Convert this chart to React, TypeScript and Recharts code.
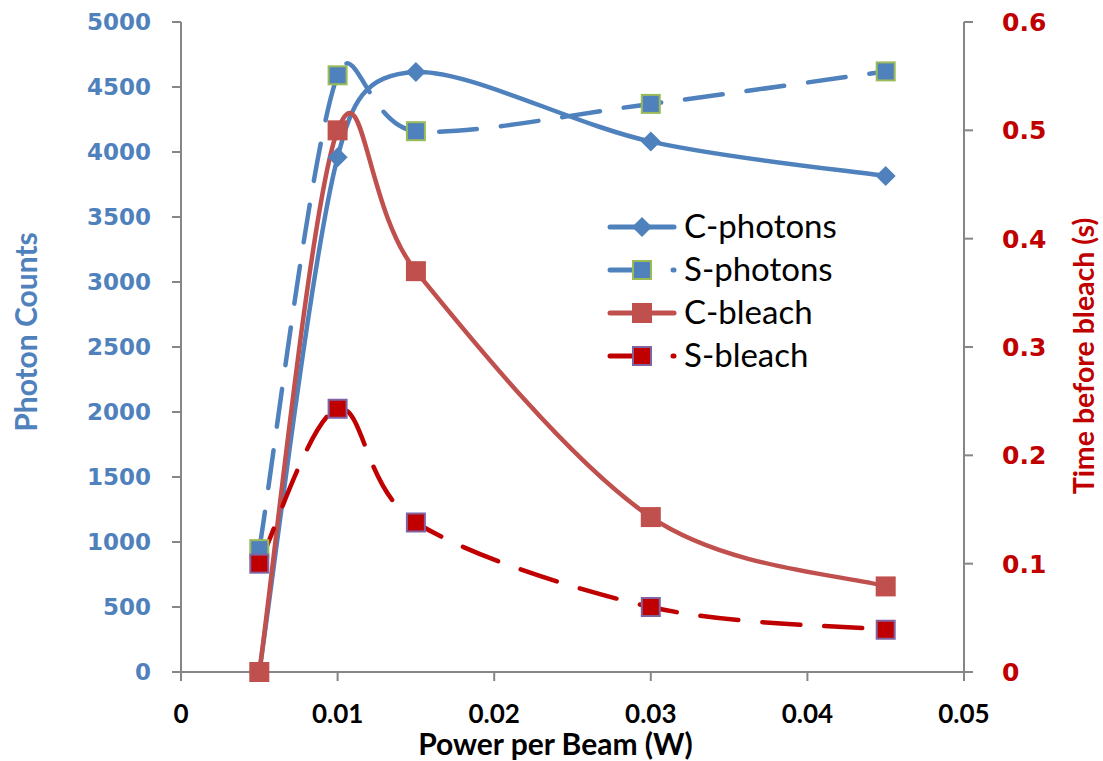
import React from "react";
import { LineChart, Line, XAxis, YAxis, Legend } from "recharts";

// x values (W) and the four series
const power = [0.005, 0.01, 0.015, 0.03, 0.045];
const cPhotons = [0, 3960, 4615, 4080, 3815];
const sPhotons = [945, 4590, 4160, 4370, 4620];
const cBleach = [0, 0.5, 0.37, 0.143, 0.079];
const sBleach = [0.1, 0.243, 0.138, 0.06, 0.039];

const xTicks = [0, 0.01, 0.02, 0.03, 0.04, 0.05];
const photonTicks = [0, 500, 1000, 1500, 2000, 2500, 3000, 3500, 4000, 4500, 5000];
const bleachTicks = [0, 0.1, 0.2, 0.3, 0.4, 0.5, 0.6];

const rows = power.map((p, i) => ({
  power: p,
  cPhotons: cPhotons[i],
  sPhotons: sPhotons[i],
  cBleach: cBleach[i],
  sBleach: sBleach[i],
}));

const BLUE = "#4F81BD";
const RED = "#C0504D";
const DARK_RED = "#C00000";
const AXIS = "#868686";

const series = [
  { key: "cPhotons", name: "C-photons", axis: "left", color: BLUE, dash: undefined, shape: "diamond", fill: BLUE, border: BLUE },
  { key: "sPhotons", name: "S-photons", axis: "left", color: BLUE, dash: "38 24", shape: "square", fill: BLUE, border: "#9BBB59" },
  { key: "cBleach", name: "C-bleach", axis: "right", color: RED, dash: undefined, shape: "square", fill: RED, border: RED },
  { key: "sBleach", name: "S-bleach", axis: "right", color: DARK_RED, dash: "38 24", shape: "square", fill: DARK_RED, border: "#8064A2" },
];

// Excel style smoothing: catmull-rom tangents (1/6), handle length capped at half the segment
const handle = (dx: number, dy: number, seg: number) => {
  let hx = dx / 6;
  let hy = dy / 6;
  const len = Math.hypot(hx, hy);
  if (len > seg / 2 && len > 0) {
    hx *= seg / 2 / len;
    hy *= seg / 2 / len;
  }
  return [hx, hy];
};

const excelSmooth = (context: any) => {
  let pts: number[][] = [];
  return {
    areaStart() {},
    areaEnd() {},
    lineStart() {
      pts = [];
    },
    lineEnd() {
      if (!pts.length) return;
      context.moveTo(pts[0][0], pts[0][1]);
      for (let i = 0; i < pts.length - 1; i++) {
        const p0 = pts[i - 1] || pts[i];
        const p1 = pts[i];
        const p2 = pts[i + 1];
        const p3 = pts[i + 2] || p2;
        const seg = Math.hypot(p2[0] - p1[0], p2[1] - p1[1]);
        const h1 = handle(p2[0] - p0[0], p2[1] - p0[1], seg);
        const h2 = handle(p3[0] - p1[0], p3[1] - p1[1], seg);
        context.bezierCurveTo(p1[0] + h1[0], p1[1] + h1[1], p2[0] - h2[0], p2[1] - h2[1], p2[0], p2[1]);
      }
    },
    point(x: number, y: number) {
      pts.push([x, y]);
    },
  };
};

const marker = (shape: string, cx: number, cy: number, fill: string, border: string, key?: string) => {
  if (shape === "diamond") {
    const r = 10;
    return (
      <path
        key={key}
        d={`M${cx},${cy - r}L${cx + r},${cy}L${cx},${cy + r}L${cx - r},${cy}Z`}
        fill={fill}
      />
    );
  }
  const h = 9;
  return (
    <rect key={key} x={cx - h} y={cy - h} width={h * 2} height={h * 2} fill={fill} stroke={border} strokeWidth={2} />
  );
};

const tickFont = { fontFamily: "'DejaVu Sans', sans-serif", fontWeight: 700 };

const LeftTick = ({ x, y, payload }: any) => (
  <text x={x - 21} y={y + 8} textAnchor="end" fill={BLUE} style={{ ...tickFont, fontSize: 23 }}>
    {payload.value}
  </text>
);

const RightTick = ({ x, y, payload }: any) => (
  <text x={x + 29} y={y + 9} textAnchor="start" fill={DARK_RED} style={{ ...tickFont, fontSize: 25 }}>
    {payload.value}
  </text>
);

const BottomTick = ({ x, y, payload }: any) => (
  <text
    x={x}
    y={y + 42}
    textAnchor="middle"
    fill="#000"
    style={{ fontFamily: "Lato, sans-serif", fontWeight: 700, fontSize: 26 }}
  >
    {payload.value}
  </text>
);

const titleFont = { fontFamily: "Lato, sans-serif", fontWeight: 700 };

const renderLegend = () => (
  <svg width={260} height={170}>
    {series.map((s, i) => {
      const y = 22 + i * 43;
      return (
        <g key={s.key}>
          {s.dash ? (
            <>
              <line x1={5} y1={y} x2={36} y2={y} stroke={s.color} strokeWidth={5} strokeLinecap="round" />
              <line x1={68} y1={y} x2={69} y2={y} stroke={s.color} strokeWidth={5} strokeLinecap="round" />
            </>
          ) : (
            <line x1={5} y1={y} x2={69} y2={y} stroke={s.color} strokeWidth={5} strokeLinecap="round" />
          )}
          {marker(s.shape, 37, y, s.fill, s.border)}
          <text x={79} y={y + 11} fill="#000" style={{ fontFamily: "Lato, sans-serif", fontSize: 33 }}>
            {s.name}
          </text>
        </g>
      );
    })}
  </svg>
);

export default function App() {
  return (
    <div style={{ position: "absolute", left: 0, top: 0, background: "#fff" }}>
      <LineChart width={1103} height={761} data={rows} margin={{ top: 22, right: 0, bottom: 0, left: 0 }}>
        <XAxis
          dataKey="power"
          type="number"
          domain={[0, 0.05]}
          ticks={xTicks}
          height={89}
          tickSize={9}
          tickMargin={0}
          stroke={AXIS}
          strokeWidth={2}
          tick={<BottomTick />}
          label={{
            content: ({ viewBox }: any) => (
              <text
                x={viewBox.x + viewBox.width / 2 - 17}
                y={viewBox.y + 83}
                textAnchor="middle"
                fill="#000"
                style={{ ...titleFont, fontSize: 30 }}
              >
                Power per Beam (W)
              </text>
            ),
          }}
        />
        <YAxis
          yAxisId="left"
          orientation="left"
          domain={[0, 5000]}
          ticks={photonTicks}
          width={181}
          tickSize={9}
          tickMargin={0}
          stroke={AXIS}
          strokeWidth={2}
          tick={<LeftTick />}
          label={{
            content: ({ viewBox }: any) => {
              const cx = viewBox.x + 25;
              const cy = viewBox.y + viewBox.height / 2 - 15;
              return (
                <text
                  x={cx}
                  y={cy}
                  transform={`rotate(-90 ${cx} ${cy})`}
                  textAnchor="middle"
                  dominantBaseline="central"
                  fill={BLUE}
                  style={{ ...titleFont, fontSize: 30 }}
                >
                  Photon Counts
                </text>
              );
            },
          }}
        />
        <YAxis
          yAxisId="right"
          orientation="right"
          domain={[0, 0.6]}
          ticks={bleachTicks}
          width={139}
          tickSize={9}
          tickMargin={0}
          stroke={AXIS}
          strokeWidth={2}
          tick={<RightTick />}
          label={{
            content: ({ viewBox }: any) => {
              const cx = viewBox.x + 119;
              const cy = viewBox.y + viewBox.height / 2 + 9;
              return (
                <text
                  x={cx}
                  y={cy}
                  transform={`rotate(-90 ${cx} ${cy})`}
                  textAnchor="middle"
                  dominantBaseline="central"
                  fill={DARK_RED}
                  style={{ ...titleFont, fontSize: 28.5 }}
                >
                  Time before bleach (s)
                </text>
              );
            },
          }}
        />
        <Legend
          layout="vertical"
          align="center"
          verticalAlign="middle"
          content={renderLegend}
          wrapperStyle={{ position: "absolute", left: 605, top: 205, width: 260, height: 170 }}
        />
        {series.map((s) => (
          <Line
            key={s.key}
            yAxisId={s.axis}
            dataKey={s.key}
            name={s.name}
            type={excelSmooth as any}
            stroke={s.color}
            strokeWidth={4.5}
            strokeDasharray={s.dash}
            strokeLinecap="round"
            isAnimationActive={false}
            activeDot={false}
            dot={(p: any) => marker(s.shape, p.cx, p.cy, s.fill, s.border, `${s.key}-${p.index}`)}
          />
        ))}
      </LineChart>
    </div>
  );
}
